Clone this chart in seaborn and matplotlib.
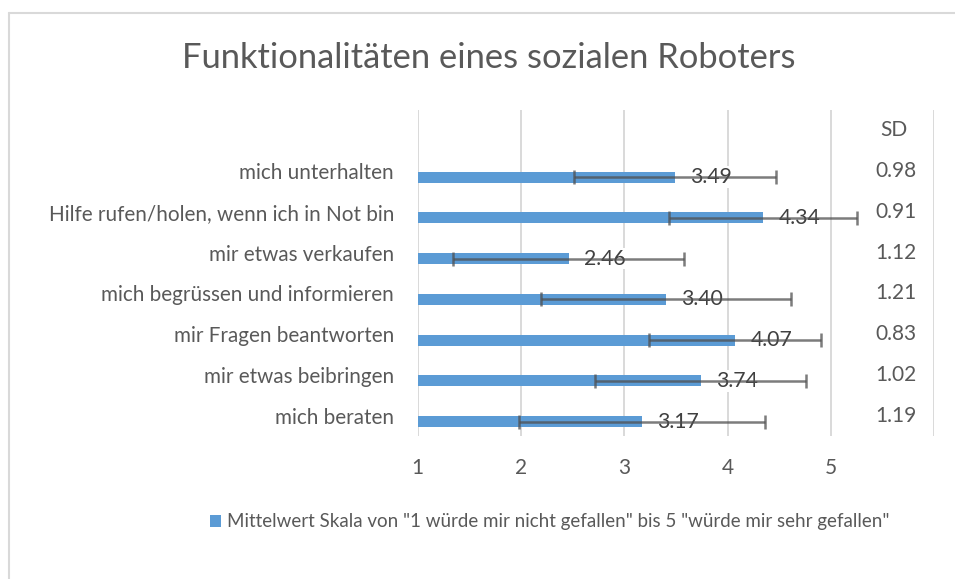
import matplotlib
matplotlib.use("Agg")
import matplotlib.pyplot as plt
import seaborn as sns
import pandas as pd
from matplotlib.patches import Patch
from matplotlib.lines import Line2D

# ---- data ----
categories = [
    "mich unterhalten",
    "Hilfe rufen/holen, wenn ich in Not bin",
    "mir etwas verkaufen",
    "mich begrüssen und informieren",
    "mir Fragen beantworten",
    "mir etwas beibringen",
    "mich beraten",
]
means = [3.49, 4.34, 2.46, 3.40, 4.07, 3.74, 3.17]
sds = [0.98, 0.91, 1.12, 1.21, 0.83, 1.02, 1.19]
x_ticks = [1, 2, 3, 4, 5]
title = "Funktionalitäten eines sozialen Roboters"
legend_label = 'Mittelwert Skala von "1 würde mir nicht gefallen" bis 5 "würde mir sehr gefallen"'
sd_header = "SD"

df = pd.DataFrame({"Kategorie": categories, "Mittelwert": means, "SD": sds})

sns.set_theme(style="white")
plt.rcParams["font.family"] = ["Lato", "DejaVu Sans"]

TXT = "#595959"
BAR = "#5B9BD5"
GRID = "#d9d9d9"

fig = plt.figure(figsize=(9.55, 5.79), dpi=100)
ax = fig.add_axes([417.7 / 955, 1 - 436 / 579, 516.6 / 955, 326 / 579])

sns.barplot(data=df, x="Mittelwert", y="Kategorie", orient="h", color=BAR,
            width=0.27, errorbar=None, saturation=1, ax=ax, zorder=2)

offset = 0.147
for p in ax.patches:
    p.set_y(p.get_y() + offset)
    p.set_linewidth(0)

ypos = [i + offset for i in range(len(categories))]
ax.errorbar(means, ypos, xerr=sds, fmt="none", ecolor="#505050", alpha=0.75,
            elinewidth=1.8, capsize=5, capthick=1.8, zorder=5)

for m, y in zip(means, ypos):
    ax.text(m + 0.15, y, f"{m:.2f}", ha="left", va="center", fontsize=15.3,
            color="#404040", zorder=4,
            bbox=dict(facecolor="white", edgecolor="none", pad=0.5))

for i, s in enumerate(sds):
    ax.text(5.83, i, f"{s:.2f}", ha="right", va="center", fontsize=15, color=TXT)
ax.text(5.745, -1, sd_header, ha="right", va="center", fontsize=15, color=TXT)

ax.set_xlim(1, 6)
ax.set_ylim(6.5, -1.5)
ax.set_xticks([1, 2, 3, 4, 5, 6])
ax.set_xticklabels([str(t) for t in x_ticks] + [""])
ax.grid(axis="x", color=GRID, linewidth=1.4, zorder=0)
ax.grid(axis="y", visible=False)
ax.set_axisbelow(True)
for s in ax.spines.values():
    s.set_visible(False)
ax.set_xlabel("")
ax.set_ylabel("")
ax.tick_params(axis="x", length=0, pad=16, labelsize=15, labelcolor=TXT)
ax.tick_params(axis="y", length=0, pad=17, labelsize=14.9, labelcolor=TXT)

fig.text(489 / 955, 1 - 58 / 579, title, ha="center", va="center",
         fontsize=24.8, color=TXT)

fig.legend(handles=[Patch(facecolor=BAR, edgecolor="none")], labels=[legend_label],
           loc="center", bbox_to_anchor=(549.5 / 955, 1 - 522 / 579), frameon=False,
           handlelength=0.6, handleheight=0.6, handletextpad=0.3,
           fontsize=13.5, labelcolor=TXT)

# chart border
fig.add_artist(Line2D([9 / 955, 9 / 955], [0, 1 - 13 / 579], color=GRID, lw=1.5,
                      transform=fig.transFigure))
fig.add_artist(Line2D([9 / 955, 1], [1 - 13 / 579, 1 - 13 / 579], color=GRID, lw=1.5,
                      transform=fig.transFigure))

fig.savefig("out.png", dpi=100)
